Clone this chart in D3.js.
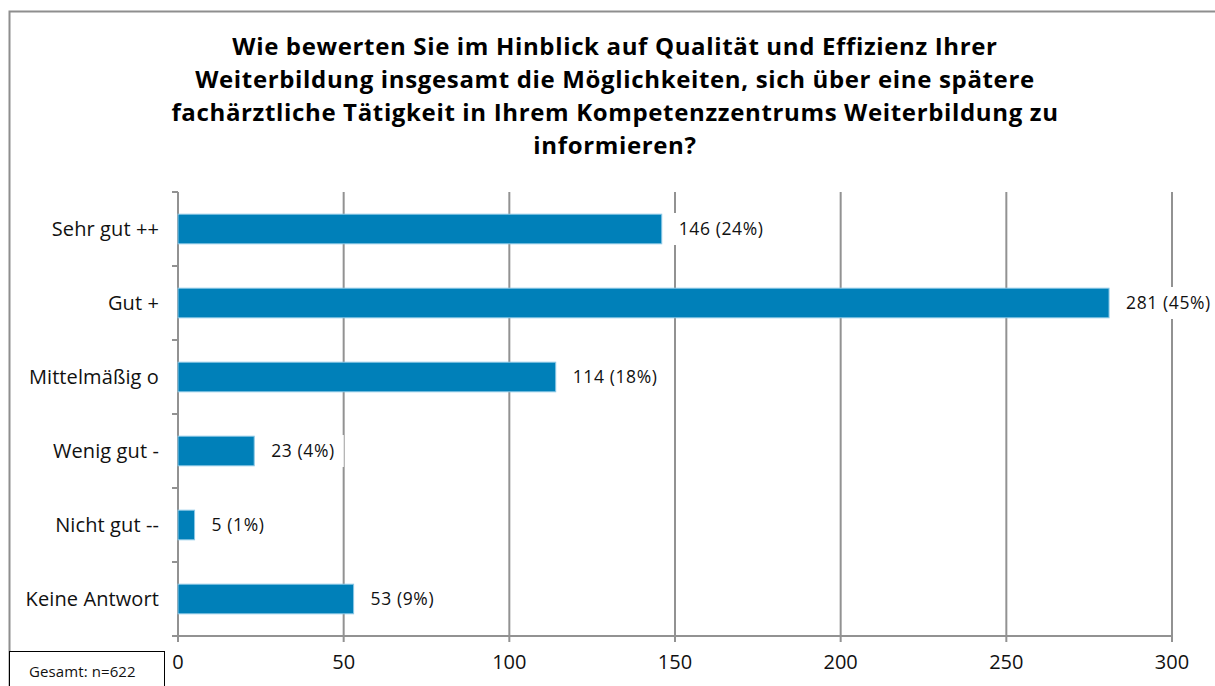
<!DOCTYPE html>
<html>
<head>
<meta charset="utf-8">
<script src="https://cdn.jsdelivr.net/npm/d3@7"></script>
<style>
  html, body { margin: 0; padding: 0; background: #fff; }
  svg { display: block; font-family: "Open Sans", "Noto Sans", sans-serif; }
</style>
</head>
<body>
<svg id="chart" width="1215" height="686"></svg>
<script>
// Survey answers and counts
const categories = ["Sehr gut ++", "Gut +", "Mittelmäßig o", "Wenig gut -", "Nicht gut --", "Keine Antwort"];
const counts = [146, 281, 114, 23, 5, 53];
const percentLabels = ["24%", "45%", "18%", "4%", "1%", "9%"];
const xTicks = [0, 50, 100, 150, 200, 250, 300];
const titleLines = [
  "Wie bewerten Sie im Hinblick auf Qualität und Effizienz Ihrer",
  "Weiterbildung insgesamt die Möglichkeiten, sich über eine spätere",
  "fachärztliche Tätigkeit in Ihrem Kompetenzzentrums Weiterbildung zu",
  "informieren?"
];
const totalNote = "Gesamt: n=622";

const svg = d3.select("#chart");
const plot = { left: 178, right: 1172, top: 192, bottom: 636 };
const gridColor = "#929292";

// outer frame
svg.append("path")
  .attr("d", "M9.5,690 V11.5 H1220")
  .attr("fill", "none")
  .attr("stroke", "#8e8e8e")
  .attr("stroke-width", 2);

// title
const title = svg.append("text")
  .attr("text-anchor", "middle")
  .attr("font-weight", "bold")
  .attr("font-size", 24)
  .attr("letter-spacing", 0.65)
  .attr("fill", "#000");
titleLines.forEach((t, i) => {
  title.append("tspan").attr("x", 615).attr("y", 55 + i * 33).text(t);
});

const x = d3.scaleLinear().domain([0, 300]).range([plot.left, plot.right]);
const y = d3.scaleBand().domain(categories).range([plot.top, plot.bottom])
  .paddingInner(0.6).paddingOuter(0.3);

// vertical gridlines (including ticks below the axis)
svg.append("g").selectAll("line").data(xTicks).join("line")
  .attr("x1", d => x(d)).attr("x2", d => x(d))
  .attr("y1", plot.top).attr("y2", plot.bottom + 6)
  .attr("stroke", gridColor).attr("stroke-width", 2);

// x axis baseline
svg.append("line")
  .attr("x1", plot.left - 6).attr("x2", plot.right)
  .attr("y1", plot.bottom).attr("y2", plot.bottom)
  .attr("stroke", gridColor).attr("stroke-width", 2);

// category separator ticks on the y axis
const step = y.step();
const boundaries = d3.range(categories.length + 1).map(i => plot.top + i * step);
svg.append("g").selectAll("line").data(boundaries).join("line")
  .attr("x1", plot.left - 6).attr("x2", plot.left)
  .attr("y1", d => d).attr("y2", d => d)
  .attr("stroke", gridColor).attr("stroke-width", 2);

// x tick labels
svg.append("g").selectAll("text").data(xTicks).join("text")
  .attr("x", d => x(d)).attr("y", 669)
  .attr("text-anchor", "middle")
  .attr("font-size", 20)
  .attr("fill", "#111")
  .text(d => d);

// category labels
svg.append("g").selectAll("text").data(categories).join("text")
  .attr("x", 159)
  .attr("y", d => y(d) + y.bandwidth() / 2)
  .attr("dy", "0.35em")
  .attr("text-anchor", "end")
  .attr("font-size", 20)
  .attr("letter-spacing", 0.1)
  .attr("fill", "#111")
  .text(d => d);

const rows = categories.map((c, i) => ({ cat: c, value: counts[i], pct: percentLabels[i] }));

// bars
svg.append("g").selectAll("rect").data(rows).join("rect")
  .attr("x", x(0))
  .attr("y", d => y(d.cat))
  .attr("width", d => x(d.value) - x(0))
  .attr("height", y.bandwidth())
  .attr("fill", "#0080b9")
  .attr("stroke", "#8cc8e6")
  .attr("stroke-width", 1);

// value labels on white boxes
const labels = svg.append("g").selectAll("g").data(rows).join("g")
  .attr("transform", d => `translate(${x(d.value) + 7},${y(d.cat) + y.bandwidth() / 2})`);
labels.append("text")
  .attr("x", 10)
  .attr("dy", "0.35em")
  .attr("font-size", 17.5)
  .attr("letter-spacing", 0.6)
  .attr("fill", "#111")
  .text(d => `${d.value} (${d.pct})`);
labels.each(function () {
  const g = d3.select(this);
  const w = g.select("text").node().getComputedTextLength();
  g.insert("rect", "text")
    .attr("x", 0).attr("y", -16)
    .attr("width", w + 19).attr("height", 32)
    .attr("fill", "#fff");
});

// sample size note
svg.append("rect")
  .attr("x", 9.5).attr("y", 651.5)
  .attr("width", 155).attr("height", 50)
  .attr("fill", "#fff")
  .attr("stroke", "#000").attr("stroke-width", 1);
svg.append("text")
  .attr("x", 29).attr("y", 677)
  .attr("font-size", 15)
  .attr("letter-spacing", 0.1)
  .attr("fill", "#111")
  .text(totalNote);
</script>
</body>
</html>
